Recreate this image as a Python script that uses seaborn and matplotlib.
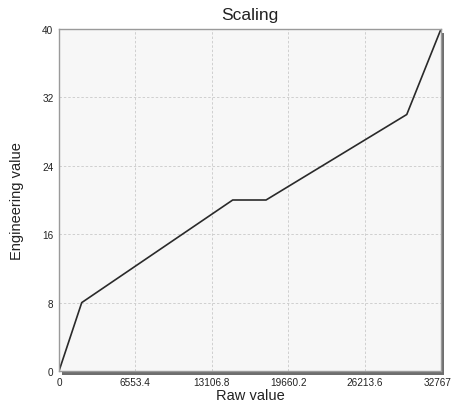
import matplotlib
matplotlib.use("Agg")
import matplotlib.pyplot as plt
import matplotlib.patches as mpatches
import matplotlib.transforms as mtransforms
import seaborn as sns
import pandas as pd

# Scaling curve breakpoints: raw counts -> engineering units
raw_values = [0, 1950, 14900, 17760, 29830, 32767]
eng_values = [0, 8, 20, 20, 30, 40]
x_ticks = [0, 6553.4, 13106.8, 19660.2, 26213.6, 32767]
x_tick_labels = ["0", "6553.4", "13106.8", "19660.2", "26213.6", "32767"]
y_ticks = [0, 8, 16, 24, 32, 40]

df = pd.DataFrame({"raw": raw_values, "eng": eng_values})

sns.set_style("white")
plt.rcParams["font.family"] = ["Liberation Sans", "DejaVu Sans"]

fig = plt.figure(figsize=(4.53, 4.10), dpi=100)
ax = fig.add_axes([59 / 453, 1 - 372 / 410, 382 / 453, 342 / 410])

# drop shadow behind the plot frame
shadow = mpatches.Rectangle((62 / 453, 1 - 376 / 410), 382 / 453, 342 / 410,
                            transform=fig.transFigure, facecolor="#6e6e6e",
                            edgecolor="none", zorder=0)
fig.patches.append(shadow)
ax.set_zorder(1)

ax.set_facecolor("#f7f7f7")
sns.lineplot(data=df, x="raw", y="eng", ax=ax, color="#2a2a2a",
             linewidth=1.2, estimator=None, sort=False)

ax.set_xlim(0, 32767)
ax.set_ylim(0, 40)
ax.set_xticks(x_ticks)
ax.set_xticklabels(x_tick_labels)
ax.set_yticks(y_ticks)
ax.grid(True, color="#cfcfcf", linestyle=(0, (2.5, 2)), linewidth=0.7)
ax.tick_params(axis="both", labelsize=7.2, length=2, pad=2, colors="#222222")
for s in ax.spines.values():
    s.set_color("#9a9a9a")
    s.set_linewidth(1.0)

# nudge the last x tick label inward so it stays on the canvas
last = ax.get_xticklabels()[-1]
last.set_transform(last.get_transform() +
                   mtransforms.ScaledTranslation(-2.5 / 72, 0, fig.dpi_scale_trans))

ax.set_title("Scaling", fontsize=12.5, pad=7, color="#222222")
ax.set_xlabel("Raw value", fontsize=10.5, labelpad=1, color="#222222")
ax.set_ylabel("Engineering value", fontsize=10.5, labelpad=13, color="#222222")

fig.savefig("out.png", dpi=100, facecolor="white")
